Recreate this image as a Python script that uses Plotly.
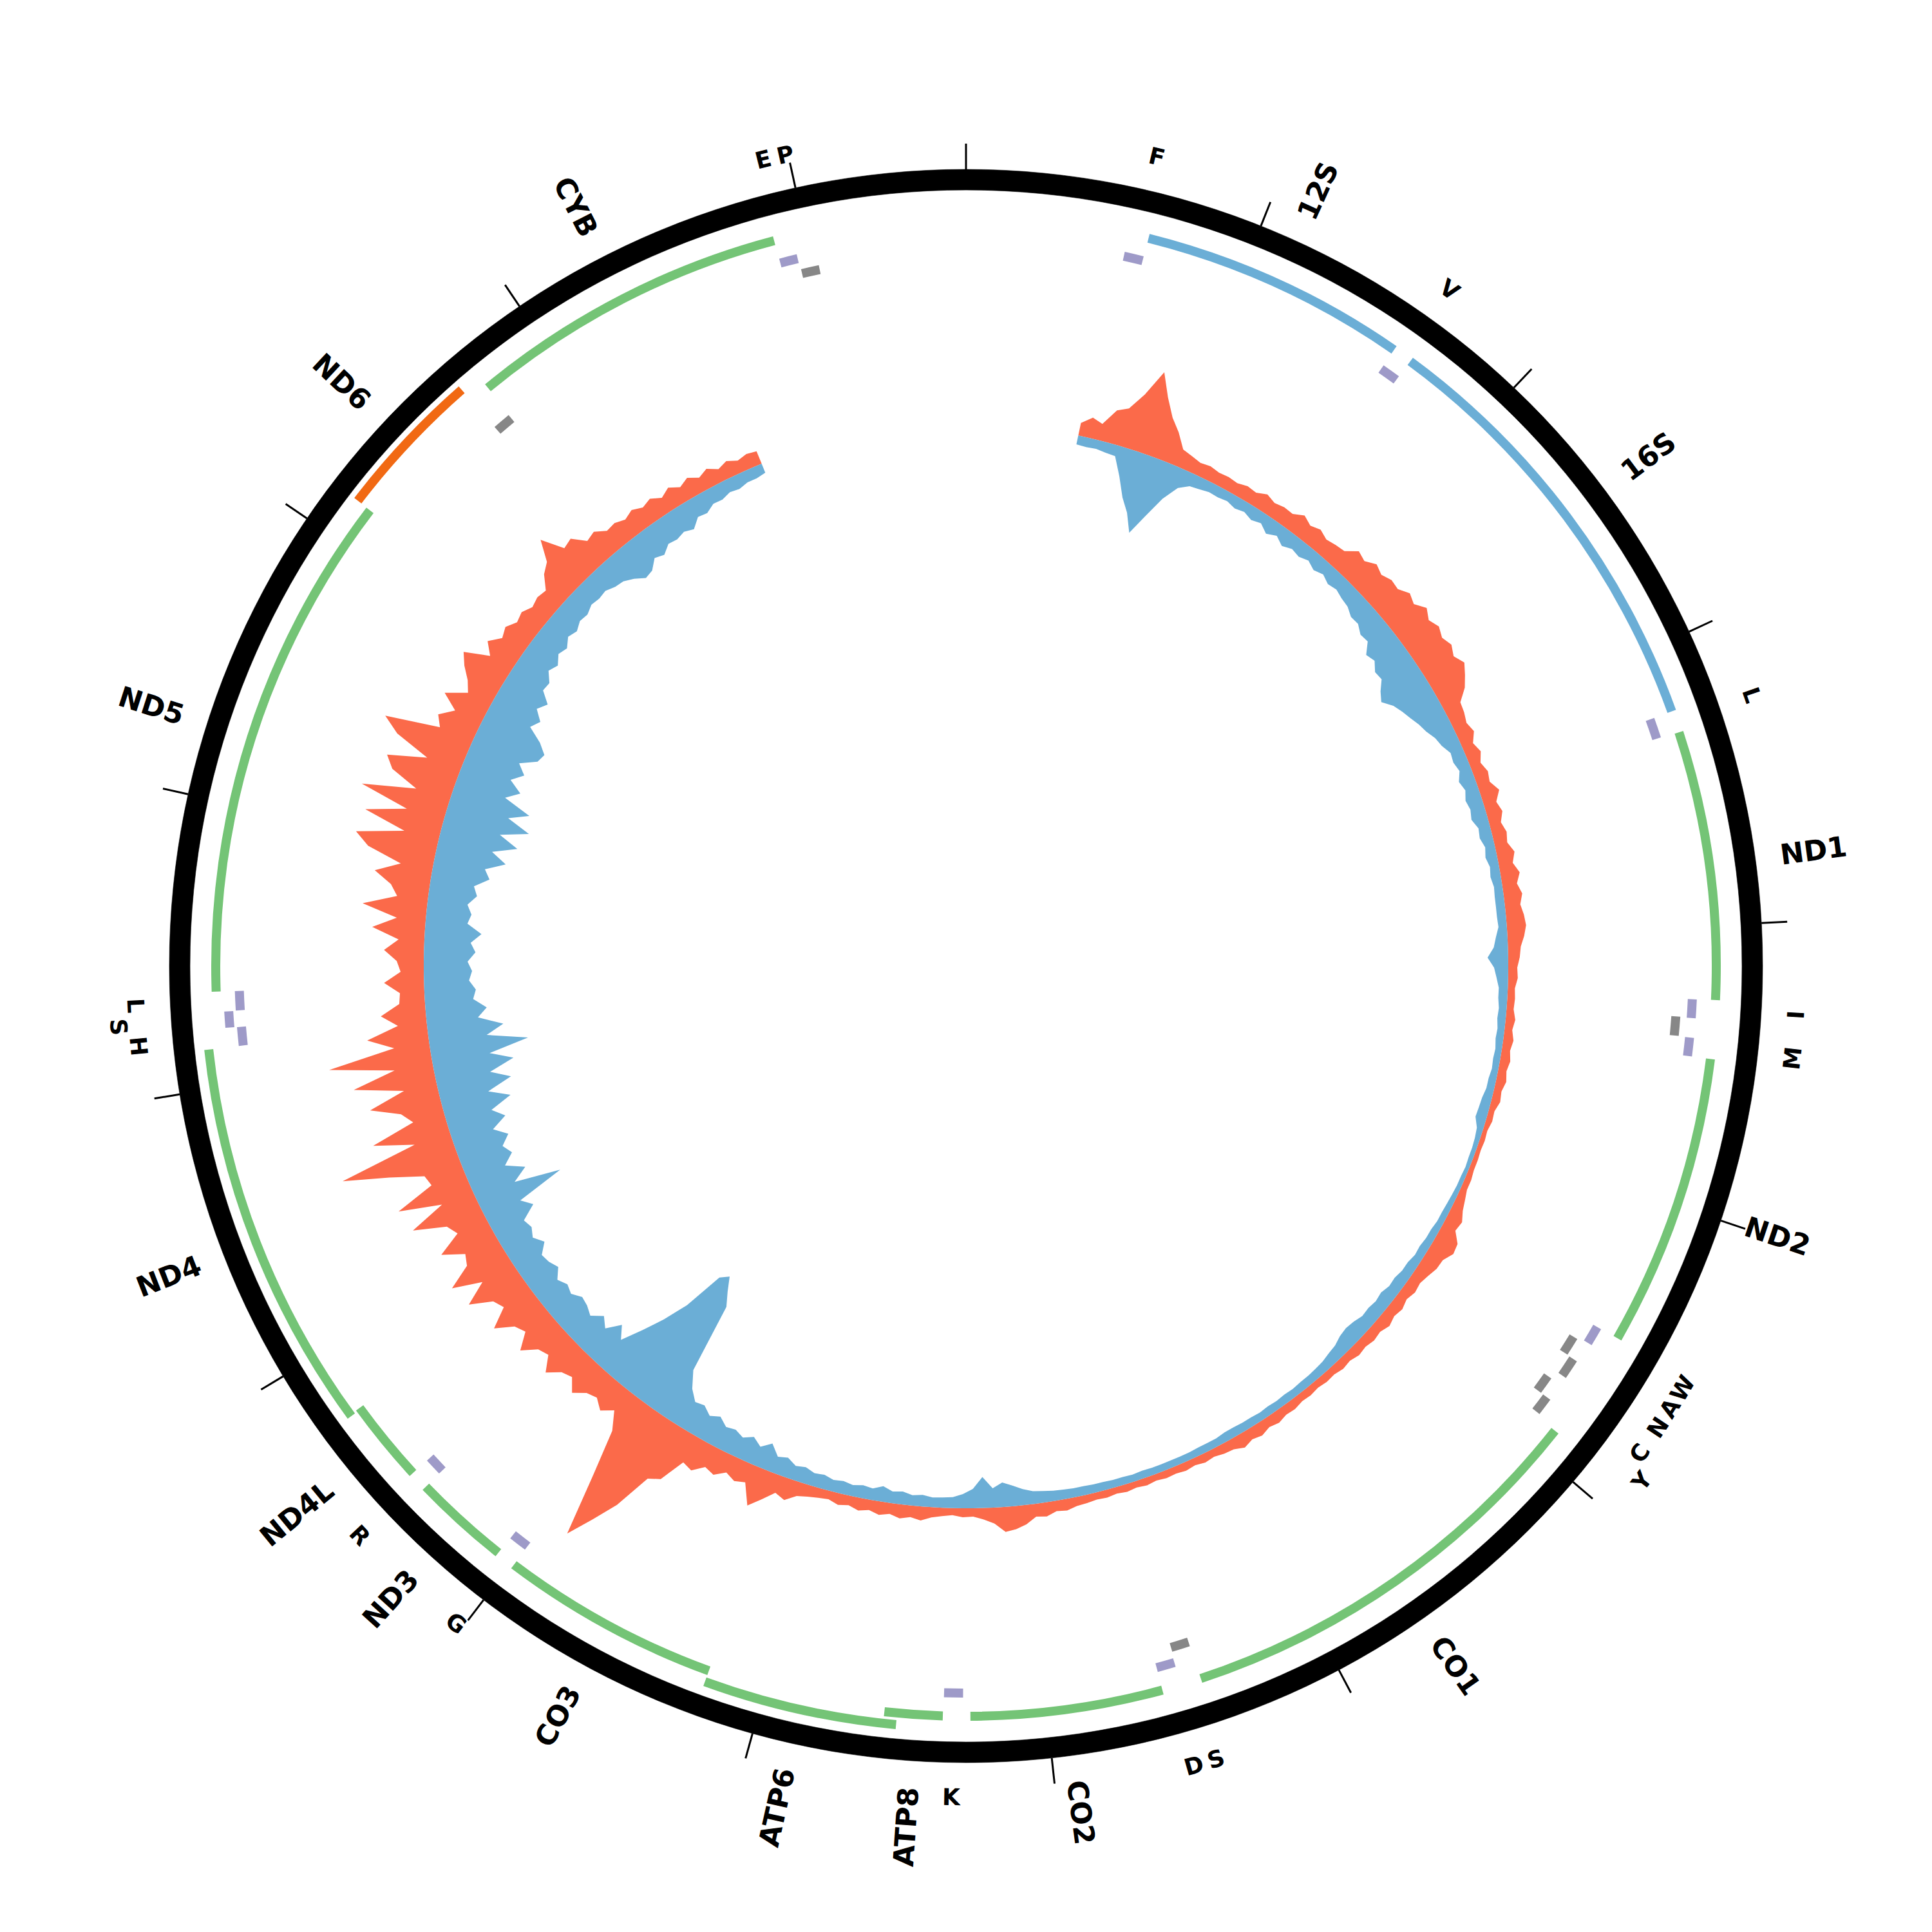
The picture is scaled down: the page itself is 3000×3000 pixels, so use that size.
import math
import plotly.graph_objects as go

GENOME_LEN = 16569

# ---------------- data ----------------
gene_names = ["12S", "16S", "ND1", "ND2", "CO1", "CO2", "ATP8", "ATP6", "CO3",
              "ND3", "ND4L", "ND4", "ND5", "ND6", "CYB"]
gene_starts = [648, 1671, 3307, 4470, 5904, 7586, 8366, 8527, 9207,
               10059, 10470, 10760, 12337, 14149, 14747]
gene_ends = [1601, 3229, 4262, 5511, 7445, 8269, 8572, 9207, 9990,
             10404, 10766, 12137, 14148, 14673, 15887]
gene_types = ["rRNA", "rRNA", "H", "H", "H", "H", "H", "H", "H",
              "H", "H", "H", "H", "L", "H"]
gene_rows = [0, 0, 0, 0, 0, 0, 0, 1, 0, 0, 0, 1, 0, 0, 0]

trna_labels = ["F", "V", "L", "I", "", "M", "W", "A", "N", "C", "Y", "S", "D",
               "K", "G", "R", "H", "S", "L", "", "E", "P"]
trna_starts = [577, 1602, 3230, 4263, 4329, 4402, 5512, 5587, 5657, 5761, 5826,
               7446, 7518, 8295, 9991, 10405, 12138, 12207, 12266, 14674, 15888, 15956]
trna_ends = [647, 1670, 3304, 4331, 4400, 4469, 5579, 5655, 5729, 5826, 5891,
             7514, 7585, 8364, 10058, 10469, 12206, 12265, 12336, 14742, 15953, 16023]
trna_strands = ["H", "H", "H", "H", "L", "H", "H", "L", "L", "L", "L",
                "L", "H", "H", "H", "H", "H", "H", "H", "L", "H", "L"]
trna_rows = [0, 0, 0, 0, 0, 0, 0, 0, 1, 0, 1, 0, 0, 0, 0, 0, 0, 1, 0, 0, 0, 0]
trna_label_rows = [0, 0, 0, 0, 0, 0, 0, 0, 0, 0, 1, 0, 0, 0, 0, 0, 0, 1, 0, 0, 0, 0]

tick_positions = list(range(0, 16001, 1000))

# coverage per strand, sampled every 50 bp from 550 to 15550
cov_positions = list(range(550, 15551, 50))
plus_depth = [
    20, 32, 26, 52, 60, 88, 130, 95, 68, 50,
    28, 24, 20, 22, 19, 20, 18, 22, 20, 27, 22, 25, 24, 33, 26, 31, 25, 28, 30, 45,
    40, 50, 44, 50, 48, 58, 52, 64, 55, 62, 56, 62, 55, 64, 55, 45, 28, 26, 22, 27,
    18, 24, 17, 23, 20, 30, 20, 25, 18, 23, 20, 28, 22, 30, 23, 29, 24, 28, 30, 26,
    20, 18, 14, 15, 11, 12, 11, 15, 12, 16, 13, 16, 13, 16, 12, 14, 9, 10, 7, 8,
    7, 8, 8, 10, 10, 14, 18, 25, 22, 35, 37, 28, 27, 22, 18, 20, 16, 20, 17, 21,
    16, 18, 15, 17, 13, 15, 12, 13, 11, 13, 12, 15, 14, 18, 15, 20, 17, 22, 16, 15,
    12, 14, 11, 13, 11, 12, 10, 12, 10, 12, 10, 12, 11, 13, 14, 18, 16, 22, 20, 30,
    36, 39, 25, 18, 13, 14, 11, 13, 16, 22, 18, 22, 17, 21, 16, 20, 15, 18, 13, 15,
    18, 22, 34, 28, 45, 62, 30, 35, 28, 40, 35, 50, 45, 85, 95, 155, 195, 235, 140, 65,
    38, 52, 40, 45, 60, 42, 48, 66, 44, 50, 72, 47, 55, 82, 50, 58, 92, 55, 100, 62,
    55, 88, 50, 60, 110, 52, 118, 55, 60, 112, 182, 58, 120, 50, 65, 110, 52, 128, 60, 160,
    55, 95, 45, 70, 40, 38, 62, 36, 42, 62, 40, 82, 45, 100, 48, 60, 88, 50, 105, 128,
    55, 122, 60, 138, 55, 100, 115, 55, 112, 140, 55, 66, 45, 72, 40, 50, 66, 78, 40, 56,
    40, 46, 36, 40, 32, 36, 33, 52, 62, 93, 58, 62, 42, 46, 34, 36, 30, 36, 29, 34,
    25, 33, 24, 31, 22, 29, 20, 26, 19, 23, 21]
minus_depth = [
    14, 15, 14, 16, 17, 45, 75, 95, 123, 90,
    55, 30, 20, 18, 15, 16, 14, 18, 15, 20, 16, 25, 18, 26, 20, 23, 18, 24, 19, 25,
    22, 26, 28, 35, 34, 42, 40, 55, 50, 60, 58, 70, 78, 65, 58, 52, 45, 40, 32, 28,
    20, 22, 18, 25, 20, 25, 22, 25, 18, 20, 15, 18, 14, 16, 13, 14, 14, 14, 13, 18,
    22, 32, 22, 18, 14, 14, 12, 13, 11, 12, 10, 11, 10, 12, 12, 15, 16, 17, 10, 8,
    7, 7, 6, 7, 7, 8, 9, 10, 10, 12, 12, 14, 13, 16, 16, 19, 18, 22, 20, 22,
    21, 25, 27, 25, 20, 18, 15, 14, 13, 13, 12, 13, 12, 13, 12, 13, 13, 14, 14, 12,
    12, 12, 11, 11, 11, 11, 11, 12, 11, 12, 12, 13, 13, 14, 14, 15, 16, 18, 20, 25,
    32, 38, 30, 48, 30, 22, 17, 16, 15, 18, 16, 20, 18, 24, 18, 20, 17, 20, 18, 22,
    20, 25, 22, 30, 26, 42, 30, 40, 32, 38, 35, 45, 38, 48, 45, 60, 85, 195, 215, 236,
    225, 160, 120, 86, 52, 70, 48, 60, 45, 52, 55, 45, 50, 42, 55, 48, 45, 60, 48, 55,
    50, 75, 60, 137, 65, 90, 62, 80, 70, 85, 65, 90, 72, 107, 75, 115, 85, 125, 90, 153,
    90, 118, 80, 95, 75, 80, 70, 75, 68, 80, 72, 88, 65, 70, 62, 75, 68, 90, 80, 110,
    85, 122, 90, 133, 95, 125, 80, 100, 78, 95, 80, 105, 110, 95, 70, 80, 65, 76, 58, 60,
    48, 55, 45, 50, 40, 45, 38, 40, 34, 36, 34, 40, 42, 50, 61, 58, 45, 50, 40, 42,
    38, 43, 30, 32, 24, 25, 20, 22, 18, 18, 15]

assert len(plus_depth) == len(cov_positions) == len(minus_depth), (
    len(plus_depth), len(minus_depth), len(cov_positions))

# ---------------- style ----------------
FIG = 2984            # page body margin (8 px) keeps the circle centred in a 3000 px window
R_MAX = FIG / 2
RING_IN, RING_W = 1205, 32
TICK_IN, TICK_OUT = 1237, 1277
GENE_BASE = [1158, 1176]
GENE_L_BASE = 1182
GENE_W = 14
TRNA_H_BASE = [1122, 1140]
TRNA_L_BASE = [1098, 1116]
TRNA_W = 14
COV_R0 = 842
DEPTH_PX = 1.0
C_GREEN = "#74c476"
C_RRNA = "#6baed6"
C_ORANGE = "#f16913"
C_PURPLE = "#9e9ac8"
C_GRAY = "#878787"
C_PLUS = "#fb6a4a"
C_MINUS = "#6baed6"
FONT = "DejaVu Sans"
GENE_FS = 44
TRNA_FS = 36
GENE_LABEL_R = 1276
TRNA_LABEL_R = 1291
TRNA_LABEL_STEP = 28

BOLD_W = {"1": .696, "2": .696, "3": .696, "4": .696, "5": .696, "6": .696, "8": .696,
          "A": .774, "B": .762, "C": .734, "D": .830, "L": .637, "N": .837, "O": .850,
          "P": .733, "S": .720, "T": .682, "Y": .724}


def deg(p):
    return p / GENOME_LEN * 360.0


fig = go.Figure()

# coverage
th = [deg(p) for p in cov_positions]
n = len(th)
r_plus = [COV_R0 + DEPTH_PX * d for d in plus_depth]
r_minus = [COV_R0 - DEPTH_PX * d for d in minus_depth]
fig.add_trace(go.Scatterpolar(r=r_plus + [COV_R0] * n, theta=th + th[::-1],
                              mode="lines", fill="toself", fillcolor=C_PLUS,
                              line=dict(width=0, color=C_PLUS), hoverinfo="skip"))
fig.add_trace(go.Scatterpolar(r=[COV_R0] * n + r_minus[::-1], theta=th + th[::-1],
                              mode="lines", fill="toself", fillcolor=C_MINUS,
                              line=dict(width=0, color=C_MINUS), hoverinfo="skip"))

# outer ring
fig.add_trace(go.Barpolar(r=[RING_W] * 4, base=[RING_IN] * 4, theta=[45, 135, 225, 315],
                          width=[90] * 4, marker=dict(color="black", line=dict(width=0.6, color="black")),
                          hoverinfo="skip"))

# ticks
tr, tt = [], []
for p in tick_positions:
    tr += [TICK_IN, TICK_OUT, None]
    tt += [deg(p), deg(p), None]
fig.add_trace(go.Scatterpolar(r=tr, theta=tt, mode="lines",
                              line=dict(color="black", width=3), hoverinfo="skip"))

# genes
for name, s, e, t, row in zip(gene_names, gene_starts, gene_ends, gene_types, gene_rows):
    if t == "rRNA":
        col, base = C_RRNA, GENE_BASE[row]
    elif t == "L":
        col, base = C_ORANGE, GENE_L_BASE
    else:
        col, base = C_GREEN, GENE_BASE[row]
    fig.add_trace(go.Barpolar(r=[GENE_W], base=[base], theta=[deg((s + e) / 2)],
                              width=[deg(e - s)], marker=dict(color=col, line=dict(width=0)),
                              hoverinfo="skip"))

# tRNAs
for s, e, strand, row in zip(trna_starts, trna_ends, trna_strands, trna_rows):
    if strand == "H":
        col, base = C_PURPLE, TRNA_H_BASE[row]
    else:
        col, base = C_GRAY, TRNA_L_BASE[row]
    fig.add_trace(go.Barpolar(r=[TRNA_W], base=[base], theta=[deg((s + e) / 2)],
                              width=[deg(e - s)], marker=dict(color=col, line=dict(width=0)),
                              hoverinfo="skip"))


def paper_xy(r, theta_deg):
    a = math.radians(theta_deg)
    return 0.5 + r * math.sin(a) / FIG, 0.5 + r * math.cos(a) / FIG


def norm(a):
    while a > 180:
        a -= 360
    while a <= -180:
        a += 360
    return a


# gene labels (radial)
for name, s, e in zip(gene_names, gene_starts, gene_ends):
    theta = deg((s + e) / 2)
    w = sum(BOLD_W.get(ch, 0.7) for ch in name) * GENE_FS
    rc = GENE_LABEL_R + w / 2
    x, y = paper_xy(rc, theta)
    ang = theta - 90 if theta < 180 else theta - 270
    fig.add_annotation(x=x, y=y, xref="paper", yref="paper", text=name, showarrow=False,
                       textangle=norm(ang), xanchor="center", yanchor="middle",
                       font=dict(family=FONT, size=GENE_FS, color="black", weight="bold"))

# tRNA labels (tangential)
for lab, s, e, lrow in zip(trna_labels, trna_starts, trna_ends, trna_label_rows):
    if not lab:
        continue
    theta = deg((s + e) / 2)
    rc = TRNA_LABEL_R + lrow * TRNA_LABEL_STEP
    x, y = paper_xy(rc, theta)
    ang = theta if (theta < 90 or theta > 270) else theta - 180
    fig.add_annotation(x=x, y=y, xref="paper", yref="paper", text=lab, showarrow=False,
                       textangle=norm(ang), xanchor="center", yanchor="middle",
                       font=dict(family=FONT, size=TRNA_FS, color="black", weight="bold"))

fig.update_layout(
    width=FIG, height=FIG, margin=dict(l=0, r=0, t=0, b=0),
    paper_bgcolor="white", plot_bgcolor="white", showlegend=False,
    polar=dict(
        domain=dict(x=[0, 1], y=[0, 1]), bgcolor="white", barmode="overlay",
        radialaxis=dict(range=[0, R_MAX], visible=False),
        angularaxis=dict(rotation=90, direction="clockwise", visible=False),
    ),
)

fig.write_html("out.html")
